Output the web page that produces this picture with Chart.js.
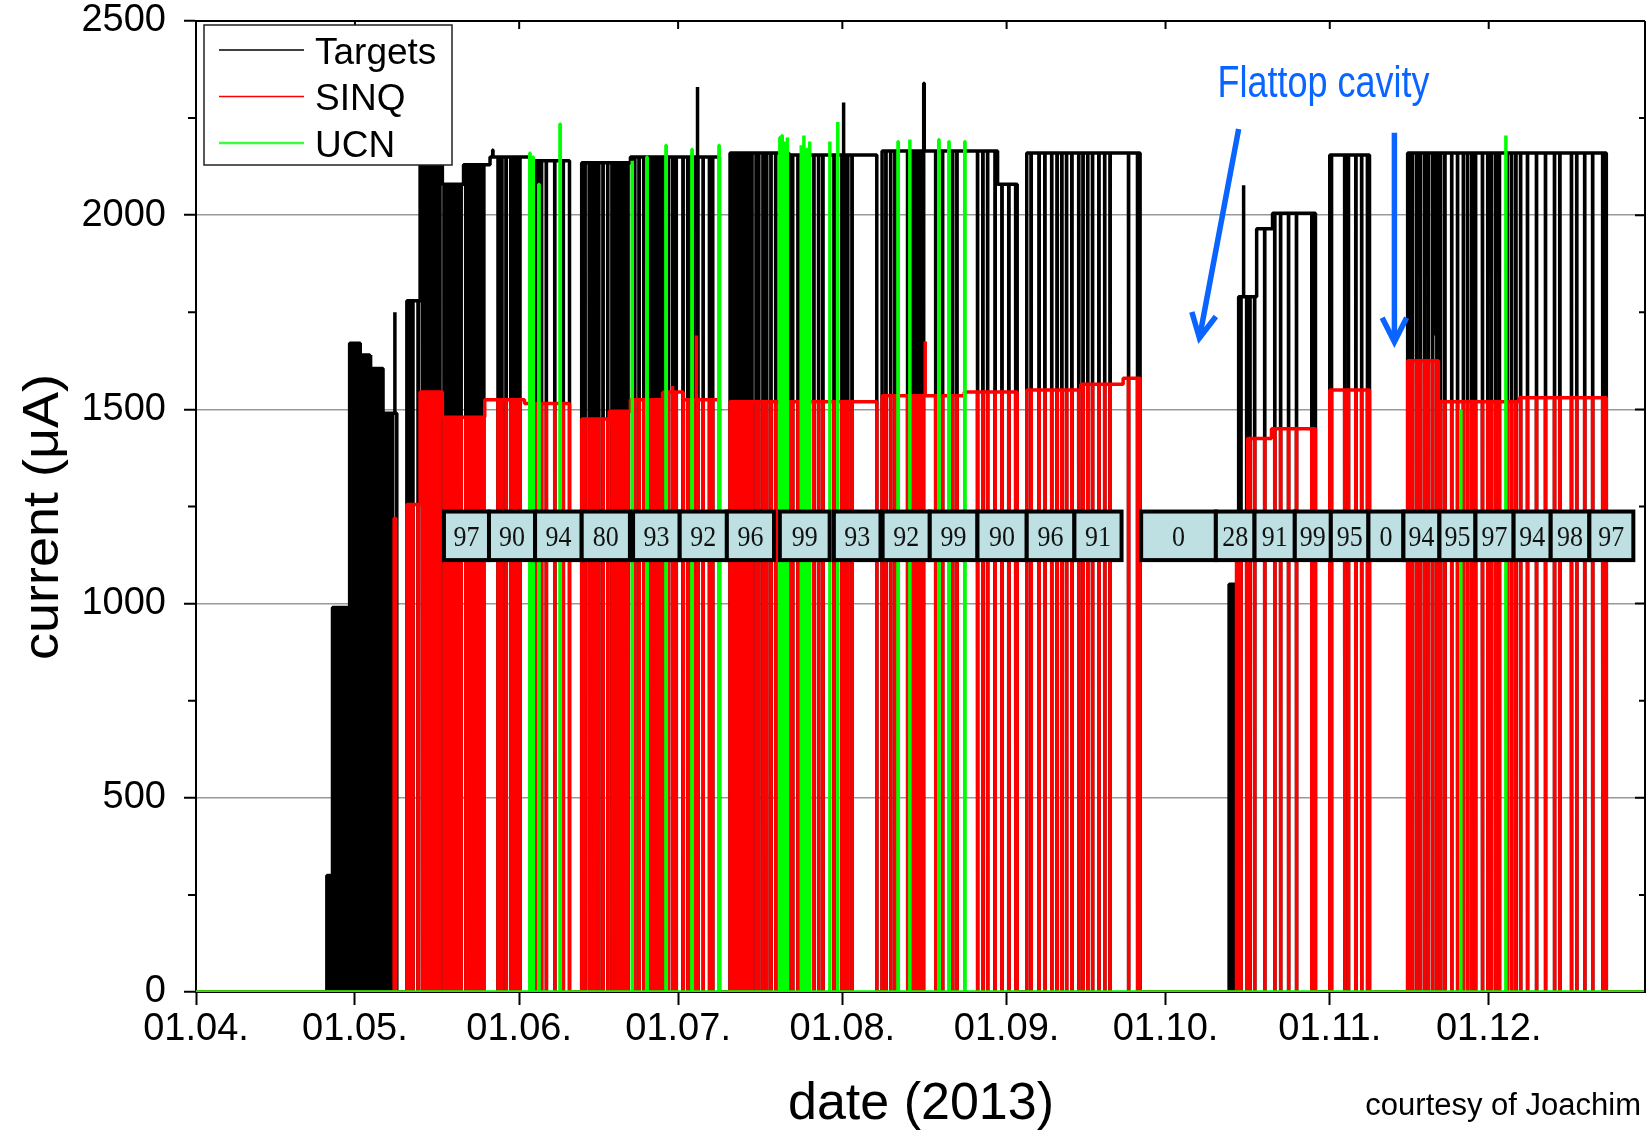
<!DOCTYPE html>
<html>
<head>
<meta charset="utf-8">
<script src="https://cdn.jsdelivr.net/npm/chart.js@4.4.1/dist/chart.umd.min.js"></script>
<style>
  body { margin: 0; background: #fff; }
  #wrap { width: 1647px; height: 1134px; }
</style>
</head>
<body>
<div id="wrap"><canvas id="beamChart" width="1647" height="1134"></canvas></div>
<script>
// days since 01.04.2013
var monthTicks = [0, 30, 61, 91, 122, 153, 183, 214, 244];
var monthLabels = ['01.04.', '01.05.', '01.06.', '01.07.', '01.08.', '01.09.', '01.10.', '01.11.', '01.12.'];

// [from day, to day, current in uA] while beam is on
var targetLevels = [
    [24.7, 25.8, 300], [25.8, 28.7, 990], [29.0, 31.0, 1670], [31.0, 33.0, 1640],
    [33.0, 35.3, 1605], [35.3, 37.9, 1490], [39.8, 42.3, 1780], [42.3, 46.5, 2130],
    [46.5, 50.5, 2080], [50.5, 55.5, 2130], [55.5, 63.0, 2150], [63.0, 70.5, 2140],
    [72.8, 82.0, 2135], [82.0, 98.8, 2150], [100.8, 112.0, 2160], [112.0, 128.5, 2155],
    [129.5, 151.3, 2165], [151.3, 155.0, 2080], [156.8, 178.2, 2160], [195.0, 196.8, 1050],
    [196.8, 200.2, 1790], [200.2, 203.2, 1965], [203.2, 211.3, 2005], [214.0, 221.5, 2155],
    [228.7, 266.2, 2160]
];
var sinqLevels = [
    [37.4, 37.7, 1220], [39.8, 42.3, 1255], [42.3, 46.5, 1545], [46.5, 54.5, 1480],
    [54.5, 62.0, 1525], [62.0, 70.5, 1515], [72.8, 78.0, 1475], [78.0, 82.0, 1495],
    [82.0, 88.0, 1525], [88.0, 92.0, 1545], [92.0, 98.8, 1525], [100.8, 128.5, 1520],
    [129.5, 145.0, 1535], [145.0, 155.0, 1545], [156.8, 167.0, 1550], [167.0, 175.0, 1565],
    [175.0, 178.2, 1580], [196.4, 198.5, 1200], [198.5, 203.0, 1425], [203.0, 211.3, 1450],
    [214.0, 221.5, 1550], [228.7, 234.5, 1625], [234.5, 249.8, 1520], [249.8, 266.2, 1530]
];

// beam trips (day), seen on Targets and SINQ
var beamTrips = [
    25.3, 25.7, 26.1, 26.5, 26.9, 27.3, 27.7, 28.1, 28.5,
    29.1, 29.5, 29.9, 30.4, 30.8, 31.3, 31.8, 32.3, 32.8, 33.3, 33.9, 34.5, 35.1, 35.6, 36.1, 36.6, 37.1,
    40.4, 40.9, 41.9,
    42.7, 43.2, 43.7, 44.2, 44.6, 45.1, 45.6, 46.0, 46.8, 47.2, 47.6, 48.1, 48.7, 49.4, 50.0, 50.9, 51.5,
    52.1, 52.6, 53.2, 53.8, 54.3,
    57.0, 57.7, 58.5, 59.4, 60.0, 60.6, 61.1, 64.0, 64.5, 65.2, 66.1, 67.7, 69.3,
    73.4, 74.2, 74.7, 75.3, 76.0, 76.8, 77.7, 78.5, 79.2, 79.8, 80.4, 80.9, 81.5, 82.4, 82.8, 83.6, 84.5,
    85.7, 86.2, 86.8, 87.4, 88.1, 89.1, 89.9, 90.6, 91.9, 92.8, 93.4, 93.9, 94.7, 95.7, 96.9, 97.5,
    101.3, 101.9, 102.5, 103.0, 103.6, 104.2, 104.9, 105.7, 106.2, 107.0, 107.7, 108.5, 109.4, 111.9,
    112.6, 113.6, 114.5, 115.7, 116.6, 117.5, 118.3, 120.4, 121.9, 122.5, 123.0, 123.8,
    130.2, 131.1, 131.9, 134.3, 134.9, 135.5, 136.0, 136.6, 137.2, 139.6, 140.9, 142.8, 143.6,
    147.5, 148.5, 149.4, 150.8, 152.1, 153.4, 154.7,
    157.6, 159.1, 160.2, 161.5, 162.5, 163.4, 164.3, 165.3, 166.6, 167.4, 168.3, 169.2, 170.4, 171.5,
    172.5, 176.0, 177.7,
    195.3, 195.6, 195.9, 196.2, 196.6, 197.2, 198.3, 198.9, 199.8, 201.7, 203.6, 204.7, 206.2, 207.7, 210.6,
    214.3, 216.8, 217.5, 218.9, 220.0, 221.1,
    229.2, 229.6, 230.4, 231.1, 231.9, 232.6, 233.4, 234.2, 234.9, 235.7, 237.0, 238.1, 239.2, 240.0,
    240.8, 241.5, 242.8, 243.8, 244.5, 245.3, 246.0, 247.5, 248.3, 249.1, 250.0, 251.3, 253.0, 254.7,
    256.4, 257.4, 259.6, 260.6, 262.1, 263.6, 265.5
];
// [day, uA] short spikes / partial dips
var targetSpikes = [[37.5, 1750], [56.0, 2168], [94.6, 2330], [122.2, 2290], [137.4, 2340], [197.7, 2077], [233.6, 1690]];
var sinqSpikes = [[89.9, 1560], [94.4, 1690], [137.6, 1675]];
var ucnSpikes = [
    [63.0, 2160], [63.6, 2150], [64.7, 2080], [68.7, 2235], [82.3, 2140], [85.1, 2150], [88.7, 2180],
    [93.6, 2170], [98.7, 2180], [110.2, 2200], [110.6, 2205], [111.1, 2190], [111.6, 2200], [114.2, 2180],
    [114.7, 2205], [115.3, 2170], [115.8, 2190], [119.6, 2190], [121.1, 2240], [132.5, 2190], [134.7, 2195],
    [140.2, 2195], [142.1, 2190], [145.1, 2190], [238.7, 1500], [247.2, 2205]
];

// weekly availability (%)
var availStart = [46.8, 55.3, 64.0, 72.8, 82.5, 91.3, 100.2, 110.2, 120.4, 129.6, 138.5, 147.5, 156.8,
    165.8, 178.4, 192.5, 199.8, 207.4, 214.2, 221.3, 227.9, 234.7, 241.5, 248.7, 255.7, 263.0];
var availEnd = [55.3, 64.0, 72.8, 81.9, 91.3, 100.2, 109.1, 119.6, 129.2, 138.5, 147.5, 156.8, 165.8,
    174.7, 192.5, 199.8, 207.4, 214.2, 221.3, 227.9, 234.7, 241.5, 248.7, 255.7, 263.0, 271.3];
var availPercent = [97, 90, 94, 80, 93, 92, 96, 99, 93, 92, 99, 90, 96, 91, 0, 28, 91, 99, 95, 0, 94, 95, 97, 94, 98, 97];

var X_MIN = 0, X_MAX = 273.5;
var FONT = "'Liberation Sans', Arial, sans-serif";

function buildLine(levels, trips, spikes)
{
    var pts = [{x: X_MIN, y: 0}];
    var prevEnd = null;
    levels.forEach(function(seg, i) {
        var a = seg[0], b = seg[1], v = seg[2];
        var next = levels[i + 1];
        if (prevEnd === null || Math.abs(prevEnd - a) > 0.01) pts.push({x: a, y: 0});
        pts.push({x: a, y: v});
        var ev = trips.filter(t => t > a && t < b).map(t => [t, 0])
            .concat(spikes.filter(s => s[0] > a && s[0] < b))
            .sort((p, q) => p[0] - q[0]);
        ev.forEach(function(e) {
            pts.push({x: e[0], y: v}, {x: e[0], y: e[1]}, {x: e[0] + 0.06, y: e[1]}, {x: e[0] + 0.06, y: v});
        });
        pts.push({x: b, y: v});
        if (!next || Math.abs(next[0] - b) > 0.01) pts.push({x: b, y: 0});
        prevEnd = b;
    });
    pts.push({x: X_MAX, y: 0});
    return pts;
}

function buildSpikes(spikes)
{
    var pts = [{x: X_MIN, y: 0}];
    spikes.forEach(function(s) {
        pts.push({x: s[0], y: 0}, {x: s[0], y: s[1]}, {x: s[0] + 0.06, y: s[1]}, {x: s[0] + 0.06, y: 0});
    });
    pts.push({x: X_MAX, y: 0});
    return pts;
}

function txt(ctx, s, x, y, font, align, color, sx, sy)
{
    ctx.save();
    ctx.translate(x, y);
    ctx.scale(sx || 1, sy || 1);
    ctx.font = font;
    ctx.textAlign = align;
    ctx.textBaseline = 'alphabetic';
    ctx.fillStyle = color;
    ctx.fillText(s, 0, 0);
    ctx.restore();
}

function arrow(ctx, x1, y1, x2, y2)
{
    var ang = Math.atan2(y2 - y1, x2 - x1);
    var wing = 27, spread = 0.47;
    ctx.save();
    ctx.strokeStyle = '#0a64ff';
    ctx.lineWidth = 5.5;
    ctx.lineJoin = 'miter';
    ctx.beginPath();
    ctx.moveTo(x1, y1);
    ctx.lineTo(x2, y2);
    ctx.stroke();
    ctx.beginPath();
    ctx.moveTo(x2 - wing * Math.cos(ang - spread), y2 - wing * Math.sin(ang - spread));
    ctx.lineTo(x2, y2);
    ctx.lineTo(x2 - wing * Math.cos(ang + spread), y2 - wing * Math.sin(ang + spread));
    ctx.stroke();
    ctx.restore();
}

var extras = {
    id: 'extras',
    afterDraw(chart) {
        var ctx = chart.ctx, xs = chart.scales.x, ys = chart.scales.y, ca = chart.chartArea;

        // availability boxes
        var bTop = ys.getPixelForValue(1237), bBot = ys.getPixelForValue(1112);
        ctx.save();
        availPercent.forEach(function(p, i) {
            var l = xs.getPixelForValue(availStart[i]), r = xs.getPixelForValue(availEnd[i]);
            ctx.fillStyle = '#bee0e3';
            ctx.fillRect(l, bTop, r - l, bBot - bTop);
            ctx.strokeStyle = '#000';
            ctx.lineWidth = 4;
            ctx.strokeRect(l, bTop, r - l, bBot - bTop);
            txt(ctx, String(p), (l + r) / 2, (bTop + bBot) / 2 + 10, "26px 'Liberation Serif', serif", 'center', '#111', 1, 1.15);
        });
        ctx.restore();

        // flattop cavity note
        txt(ctx, 'Flattop cavity', xs.getPixelForValue(192.8), ys.getPixelForValue(2304), '36px ' + FONT, 'left', '#0a64ff', 1, 1.25);
        arrow(ctx, xs.getPixelForValue(196.8), ys.getPixelForValue(2222), xs.getPixelForValue(189.4), ys.getPixelForValue(1684));
        arrow(ctx, xs.getPixelForValue(226.2), ys.getPixelForValue(2212), xs.getPixelForValue(226.2), ys.getPixelForValue(1674));

        // frame + inner ticks on top/right, minor ticks left
        ctx.save();
        ctx.strokeStyle = '#000';
        ctx.lineWidth = 2;
        ctx.beginPath();
        ctx.moveTo(ca.left, ca.top); ctx.lineTo(ca.right, ca.top);
        ctx.moveTo(ca.right, ca.top); ctx.lineTo(ca.right, ca.bottom);
        monthTicks.forEach(function(m) {
            var px = xs.getPixelForValue(m);
            ctx.moveTo(px, ca.top); ctx.lineTo(px, ca.top + 8);
        });
        for (var v = 250; v < 2500; v += 250) {
            var py = ys.getPixelForValue(v);
            var major = v % 500 === 0;
            ctx.moveTo(ca.right, py); ctx.lineTo(ca.right - (major ? 10 : 6), py);
            if (!major) { ctx.moveTo(ca.left, py); ctx.lineTo(ca.left - 8, py); }
        }
        ctx.stroke();
        ctx.restore();

        // legend
        var items = [['Targets', '#000', 1.5], ['SINQ', '#ff0000', 1.5], ['UCN', '#3cff3c', 2.5]];
        ctx.save();
        ctx.fillStyle = '#fff';
        ctx.fillRect(204, 25, 248, 140);
        ctx.strokeStyle = '#222';
        ctx.lineWidth = 1.5;
        ctx.strokeRect(204, 25, 248, 140);
        items.forEach(function(it, i) {
            var yy = 50 + i * 46.5;
            ctx.strokeStyle = it[1];
            ctx.lineWidth = it[2];
            ctx.beginPath();
            ctx.moveTo(219, yy); ctx.lineTo(304, yy);
            ctx.stroke();
            txt(ctx, it[0], 315, yy + 13.5, '37px ' + FONT, 'left', '#000');
        });
        ctx.restore();

        // axis titles + credit
        ctx.save();
        ctx.translate(44, 517);
        ctx.rotate(-Math.PI / 2);
        ctx.scale(1.08, 1);
        ctx.font = '50px ' + FONT;
        ctx.textAlign = 'center';
        ctx.textBaseline = 'middle';
        ctx.fillStyle = '#000';
        ctx.fillText('current (\u03bcA)', 0, 0);
        ctx.restore();
        txt(ctx, 'date (2013)', 921, 1119, '52px ' + FONT, 'center', '#000');
        txt(ctx, 'courtesy of Joachim', 1641, 1115, '31px ' + FONT, 'right', '#000');
    }
};

new Chart('beamChart', {
    type: 'line',
    data: {
        datasets: [{
            label: 'Targets',
            data: buildLine(targetLevels, beamTrips, targetSpikes),
            borderColor: '#000',
            borderWidth: 3.5,
            order: 3
        }, {
            label: 'SINQ',
            data: buildLine(sinqLevels, beamTrips, sinqSpikes),
            borderColor: '#ff0000',
            borderWidth: 3.5,
            order: 2
        }, {
            label: 'UCN',
            data: buildSpikes(ucnSpikes),
            borderColor: '#00ff00',
            borderWidth: 3.5,
            order: 1
        }]
    },
    options: {
        responsive: false,
        animation: false,
        elements: {
            point: { radius: 0 },
            line: { tension: 0, borderJoinStyle: 'bevel', fill: false }
        },
        layout: { padding: { top: 21, right: 2, left: 0, bottom: 0 } },
        plugins: {
            legend: { display: false },
            tooltip: { enabled: false }
        },
        scales: {
            x: {
                type: 'linear',
                min: X_MIN,
                max: X_MAX,
                afterBuildTicks: (s) => { s.ticks = monthTicks.map(v => ({ value: v })); },
                afterFit: (s) => { s.height = 142; },
                ticks: {
                    autoSkip: false,
                    maxRotation: 0,
                    padding: 2,
                    color: '#000',
                    font: { family: FONT, size: 38 },
                    callback: (v) => monthLabels[monthTicks.indexOf(v)]
                },
                grid: { drawOnChartArea: false, tickColor: '#000', tickLength: 13, tickWidth: 2 },
                border: { display: true, color: '#000', width: 2 }
            },
            y: {
                min: 0,
                max: 2500,
                afterFit: (s) => { s.width = 196; s.paddingTop = 0; s.paddingBottom = 0; },
                ticks: {
                    stepSize: 500,
                    padding: 18,
                    color: '#000',
                    font: { family: FONT, size: 38, lineHeight: 1.0 },
                    callback: (v) => String(v)
                },
                grid: {
                    color: (c) => (c.tick && c.tick.value > 0 && c.tick.value < 2500) ? '#999' : 'rgba(0,0,0,0)',
                    lineWidth: 1.5,
                    tickColor: '#000',
                    tickLength: 12,
                    tickWidth: 2
                },
                border: { display: true, color: '#000', width: 2 }
            }
        }
    },
    plugins: [extras]
});
</script>
</body>
</html>
